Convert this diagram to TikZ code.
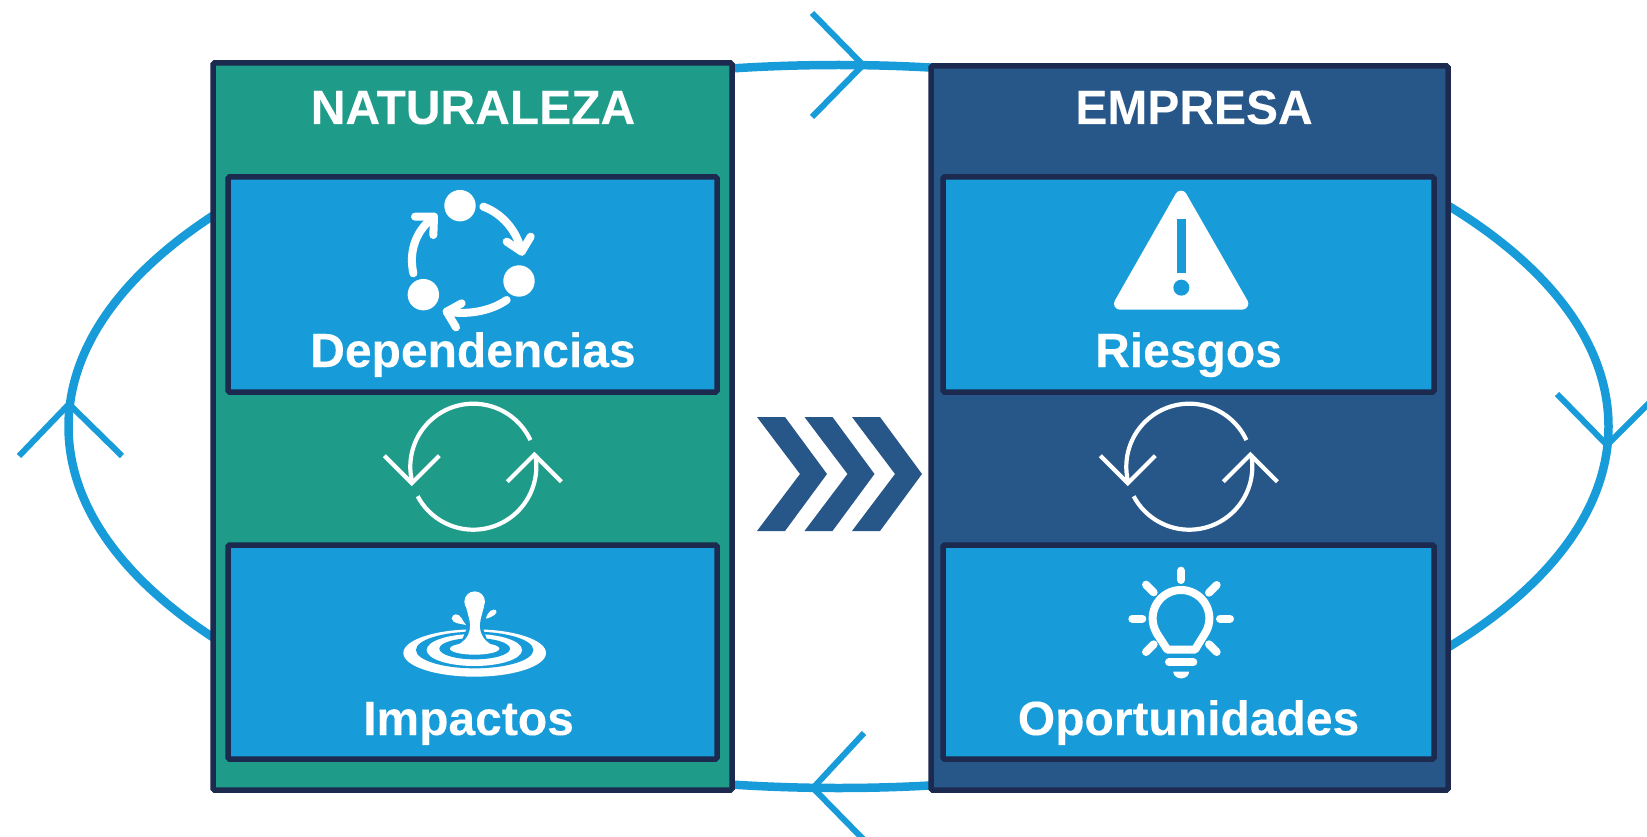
\documentclass[tikz,border=0pt]{standalone}
\usepackage{fontspec}
\setmainfont{Liberation Sans}
\definecolor{teal1}{RGB}{31,155,138}
\definecolor{navy1}{RGB}{27,42,78}
\definecolor{blue1}{RGB}{23,156,217}
\definecolor{dblue}{RGB}{39,86,136}
\tikzset{
 loopline/.style={draw=blue1,line width=8.5pt},
 headline/.style={draw=blue1,line width=6pt},
 panel/.style={draw=navy1,line width=5.5pt,rounded corners=1.5pt},
 inner/.style={panel,fill=blue1},
 title/.style={text=white,font=\fontsize{48}{50}\selectfont\bfseries\addfontfeature{FakeBold=0.15},anchor=base},
 cyc/.style={draw=white,line width=4.2pt},
 ico/.style={draw=white,line width=8pt,line cap=round,line join=round},
 icoB/.style={draw=white,line width=8pt,line cap=round,line join=round},
}
\newcommand{\cycle}[2]{%
 \begin{scope}[shift={(#1,#2)}]
 \draw[cyc] plot[smooth,domain=-195:-25,samples=40] ({63*cos(\x)},{63*sin(\x)});
 \draw[cyc] plot[smooth,domain=-11:152,samples=40] ({63*cos(\x)},{63*sin(\x)});
 \draw[cyc,line cap=butt] (-89,-11)--(-61.5,16.5)--(-34,-11);
 \draw[cyc,line cap=butt] (34,15)--(61,-12)--(88,15);
 \end{scope}}
\begin{document}
\begin{tikzpicture}[x=1pt,y=-1pt]
\useasboundingbox (0,0) rectangle (1647,837);
\begin{scope}
\clip (0,0) rectangle (1647,837);
% loop
\draw[loopline] (838.5,426.5) ellipse [x radius=770,y radius=361.5];
\draw[headline] (812,13)--(863,65)--(812,117);
\draw[headline] (19,456)--(69,404)--(122,456);
\draw[headline] (1557,394)--(1607,445)--(1660,392);
\draw[headline] (864,733)--(813,788)--(864,840);
\end{scope}
% panels
\draw[panel,fill=teal1] (213,63) rectangle (732,790);
\draw[panel,fill=dblue] (931,66) rectangle (1448,790);
\draw[inner] (228,177) rectangle (717,392);
\draw[inner] (228,545) rectangle (717,759);
\draw[inner] (943,177) rectangle (1434,392);
\draw[inner] (943,545) rectangle (1434,759);
% titles
\node[title] (t1) at (473,124) {NATURALEZA};
\node[title] (t2) at (1194,124) {EMPRESA};
\node[title] (l1) at (473,367) {Dependencias};
\node[title] (l2) at (468.5,735) {Impactos};
\node[title] (l3) at (1188.5,367) {Riesgos};
\node[title] (l4) at (1188.5,735) {Oportunidades};
% cycles
\cycle{473.3}{466.7}
\cycle{1189.3}{466.7}
% chevrons
\foreach \d in {0,47.5,95}{
 \fill[dblue,shift={(\d,0)}] (757,417)--(785,417)--(827,474)--(785,531)--(757,531)--(800,474)--cycle;
}
% dependency icon
\begin{scope}[shift={(360,170)},x=0.33333pt,y=-0.33333pt]
\fill[white] (300,107) circle (15.7pt) (477,333) circle (15.7pt) (190,374) circle (15.7pt);
\draw[ico] (370,110) .. controls (425,130) and (470,180) .. (485,245);
\draw[ico] (440,215)--(485,245)--(512,200);
\draw[ico] (440,390) .. controls (390,425) and (320,435) .. (260,425);
\draw[ico] (305,400)--(260,425)--(288,472);
\draw[ico] (160,310) .. controls (145,240) and (170,180) .. (222,140);
\draw[ico] (165,140)--(222,140)--(220,195);
\end{scope}
% water icon
\begin{scope}[shift={(370,570)},x=0.33333pt,y=-0.33333pt]
\fill[white] (314,249) ellipse [x radius=214pt/3,y radius=71pt/3];
\fill[blue1] (314,240) ellipse [x radius=176pt/3,y radius=55pt/3];
\fill[white] (313,240) ellipse [x radius=143pt/3,y radius=48pt/3];
\fill[blue1] (314,236) ellipse [x radius=106pt/3,y radius=32pt/3];
\fill[white] (314,236) ellipse [x radius=74pt/3,y radius=18pt/3];
\fill[blue1] (293,170)--(337,170)--(352,212)--(275,212)--cycle;
\fill[white] (314,95) circle (10.3pt);
\fill[white] (288,110) .. controls (298,150) and (303,160) .. (299,180) .. controls (295,200) and (285,212) .. (262,226) -- (366,226) .. controls (342,210) and (332,195) .. (330,175) .. controls (328,155) and (334,140) .. (342,110) -- cycle;
\fill[white] (245,145) .. controls (248,130) and (265,128) .. (275,145) .. controls (280,155) and (285,160) .. (288,165) .. controls (270,160) and (248,162) .. (245,145) -- cycle;
\fill[white] (348,146) .. controls (352,125) and (368,115) .. (378,120) .. controls (385,130) and (370,140) .. (348,146) -- cycle;
\end{scope}
% warning icon
\begin{scope}[shift={(1100,180)},x=0.33333pt,y=-0.33333pt]
\filldraw[white,line width=12pt,line join=round] (243,50)--(60,371)--(427,371)--cycle;
\fill[blue1] (230,117) rectangle (258,280);
\fill[blue1] (244,323) circle (8pt);
\end{scope}
% bulb icon
\begin{scope}[shift={(1110,560)},x=0.33333pt,y=-0.33333pt]
\draw[icoB] (172,269)--(139,218) -- plot[smooth,domain=150:390,samples=50] ({213+85*cos(\x)},{175+85*sin(\x)}) --(255,269)--cycle;
\draw[ico] (213,32)--(213,60);
\draw[ico] (108,74)--(131,97);
\draw[ico] (320,75)--(297,98);
\draw[ico] (67,176)--(97,176);
\draw[ico] (330,176)--(360,176);
\draw[ico] (131,253)--(108,276);
\draw[ico] (297,253)--(320,276);
\draw[ico] (177,307)--(250,307);
\fill[white] (190,335) -- (237,335) -- plot[smooth,domain=0:180,samples=20] ({213.5+23.5*cos(\x)},{335+20*sin(\x)}) -- cycle;
\end{scope}
\end{tikzpicture}
\end{document}
